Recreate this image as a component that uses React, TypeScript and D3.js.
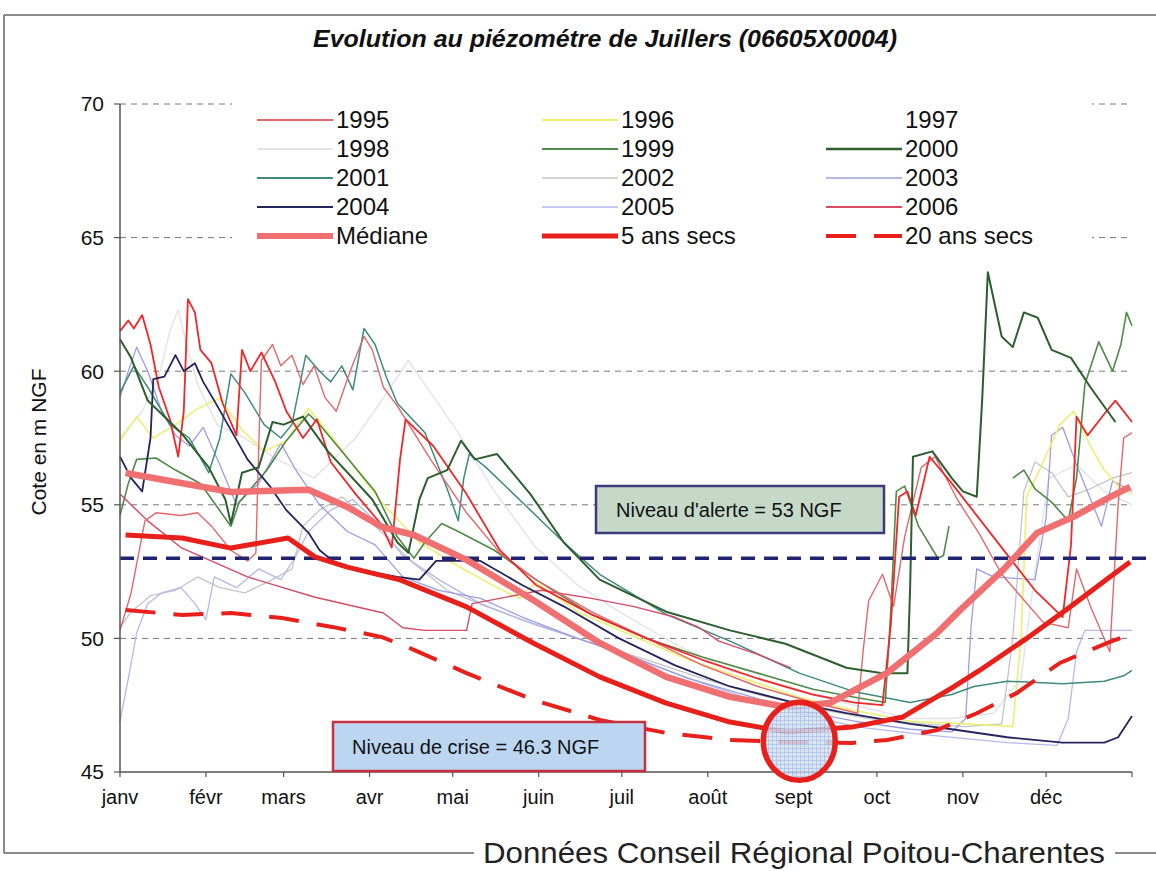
import * as d3 from 'd3';

type Pt = [number, number];

// jour de l'année (0 = 1er janvier), cote en m NGF
const mois = ['janv', 'févr', 'mars', 'avr', 'mai', 'juin', 'juil', 'août', 'sept', 'oct', 'nov', 'déc'];
const debutMois = [0, 31, 59, 90, 120, 151, 181, 212, 243, 273, 304, 334];
const yTicks = [45, 50, 55, 60, 65, 70];
const gridValues = [50, 55, 60, 65, 70];

const y1995: Pt[] = [[0, 50.3], [4, 51.7], [9, 54.4], [13, 54.7], [22, 54.6], [28, 54.7], [33, 54.2], [40, 53.3], [46, 52.9], [49, 53.2], [50, 57.0], [51, 60.4], [55, 61.0], [58, 60.2], [62, 60.6], [66, 59.5], [70, 60.2], [74, 59.0], [78, 58.5], [83, 60.0], [88, 61.3], [91, 60.8], [95, 59.4], [100, 58.7], [112, 56.7], [125, 54.7], [137, 53.2], [150, 52.2], [170, 51.0], [190, 50.0], [210, 49.0], [230, 48.2], [250, 47.6], [266, 47.2], [268, 49.5], [270, 51.4], [275, 52.4], [279, 51.2], [283, 53.8], [289, 56.4], [294, 56.8], [302, 55.2], [310, 53.9], [318, 52.4], [333, 50.6], [342, 50.4], [345, 52.6], [350, 51.2], [357, 49.5], [360, 55.0], [362, 57.5], [365, 57.7]];
const y1996: Pt[] = [[0, 57.4], [6, 58.3], [12, 57.5], [20, 58.0], [28, 58.6], [36, 59.0], [44, 57.8], [52, 57.0], [60, 57.4], [68, 58.6], [76, 57.6], [86, 56.2], [96, 54.9], [108, 53.6], [122, 52.7], [136, 51.9], [144, 51.5], [150, 52.1], [165, 51.0], [185, 50.1], [205, 49.2], [225, 48.5], [245, 47.8], [265, 47.3], [285, 46.9], [305, 46.8], [322, 46.7], [325, 50.0], [327, 55.3], [333, 56.6], [339, 58.0], [344, 58.5], [350, 57.2], [355, 56.3], [360, 55.7], [365, 55.4]];
const y1997: Pt[] = [[0, 61.5], [3, 61.9], [5, 61.6], [8, 62.1], [11, 61.0], [14, 59.4], [18, 58.2], [21, 56.8], [23, 58.5], [24.5, 62.7], [27, 62.2], [29, 60.8], [33, 60.3], [37, 58.8], [42, 57.6], [44, 60.8], [47, 60.0], [51, 60.7], [56, 59.6], [60, 58.5], [66, 57.5], [71, 58.2], [76, 56.6], [85, 55.4], [94, 54.3], [98, 53.4], [101, 56.7], [103, 58.2], [113, 57.2], [125, 55.4], [137, 53.3], [150, 52.0], [170, 50.9], [190, 50.0], [210, 49.2], [230, 48.5], [250, 47.9], [265, 47.6], [275, 47.5], [278, 50.5], [281, 55.3], [284, 55.5], [287, 54.6], [292, 56.8], [300, 55.8], [315, 53.8], [330, 51.8], [340, 50.8], [343, 53.5], [345, 58.3], [349, 57.6], [355, 58.4], [359, 58.9], [365, 58.1]];
const y1998: Pt[] = [[0, 57.5], [8, 58.5], [14, 59.8], [18, 61.5], [21, 62.3], [24, 61.0], [28, 59.5], [35, 58.0], [45, 57.5], [55, 56.8], [70, 56.0], [85, 57.5], [95, 59.0], [104, 60.4], [110, 59.5], [122, 57.7], [135, 55.5], [150, 53.4], [165, 52.0], [180, 51.0], [200, 49.8], [220, 48.8], [245, 48.0], [265, 47.5], [285, 47.0], [300, 47.0], [315, 47.2], [325, 48.5], [330, 52.5], [335, 56.0], [345, 56.5], [355, 55.5], [365, 55.0]];
const y1999: Pt[] = [[0, 54.6], [3, 55.8], [6, 56.7], [13, 56.75], [20, 56.3], [29, 55.8], [40, 54.2], [43, 55.1], [53, 56.3], [60, 57.4], [68, 58.4], [72, 58.0], [80, 57.0], [92, 55.5], [100, 53.8], [106, 53.0], [110, 53.6], [116, 54.3], [122, 54.0], [135, 53.3], [150, 52.2], [170, 50.9], [190, 50.0], [210, 49.3], [230, 48.7], [250, 48.1], [265, 47.8], [276, 47.6], [278, 51.0], [280, 55.5], [283, 55.7], [288, 54.2], [295, 53.0], [297, 53.1], [299, 54.2], [300, NaN], [322, 56.0], [326, 56.3], [330, 55.6], [336, 55.1], [342, 54.4], [345, 56.0], [348, 59.5], [353, 61.1], [358, 60.0], [361, 61.0], [363, 62.2], [365, 61.7]];
const y2000: Pt[] = [[0, 61.2], [4, 60.5], [10, 58.9], [22, 57.7], [32, 56.4], [38, 55.2], [40, 54.3], [44, 56.2], [50, 56.4], [55, 58.1], [59, 58.0], [66, 58.3], [75, 57.0], [91, 55.2], [100, 53.6], [104, 53.2], [108, 55.2], [111, 56.0], [118, 56.3], [123, 57.4], [128, 56.7], [136, 56.9], [148, 55.4], [160, 53.6], [173, 52.2], [197, 51.0], [220, 50.3], [240, 49.8], [262, 48.9], [275, 48.7], [284, 48.7], [285, 52.0], [286, 56.8], [293, 57.0], [300, 56.0], [304, 55.5], [309, 55.3], [311, 59.0], [313, 63.7], [318, 61.3], [322, 60.9], [326, 62.2], [331, 62.0], [336, 60.8], [343, 60.5], [350, 59.4], [359, 58.1]];
const y2001: Pt[] = [[0, 59.2], [5, 60.2], [10, 59.4], [18, 58.0], [25, 57.5], [32, 56.2], [36, 57.5], [40, 59.9], [45, 59.2], [52, 58.0], [58, 57.5], [62, 58.0], [67, 60.6], [72, 60.0], [76, 59.6], [80, 60.2], [84, 59.3], [88, 61.6], [92, 61.0], [96, 59.8], [100, 58.8], [110, 57.7], [118, 55.6], [122, 54.4], [124, 56.0], [126, 56.9], [132, 56.4], [146, 55.0], [160, 53.6], [173, 52.4], [197, 50.9], [220, 49.9], [245, 48.7], [265, 48.0], [285, 47.6], [300, 47.9], [308, 48.2], [320, 48.4], [340, 48.3], [355, 48.4], [362, 48.6], [365, 48.8]];
const y2002: Pt[] = [[0, 50.4], [4, 51.0], [11, 51.6], [20, 51.8], [28, 52.3], [36, 51.9], [45, 51.7], [55, 52.2], [62, 52.6], [66, 54.2], [72, 54.8], [80, 55.3], [88, 54.6], [96, 53.8], [106, 52.8], [118, 51.8], [132, 51.2], [150, 50.5], [168, 49.9], [190, 49.2], [210, 48.5], [230, 47.9], [250, 47.4], [270, 47.0], [290, 46.8], [305, 46.7], [318, 46.8], [322, 50.0], [326, 55.5], [330, 56.6], [336, 56.2], [342, 55.3], [350, 55.6], [358, 56.0], [365, 56.2]];
const y2003: Pt[] = [[0, 59.0], [3, 60.0], [6, 60.9], [10, 60.0], [15, 58.5], [20, 57.6], [25, 57.2], [30, 57.9], [36, 56.5], [42, 55.0], [50, 55.8], [58, 57.3], [64, 56.2], [72, 55.0], [82, 54.0], [92, 53.5], [102, 52.3], [115, 51.8], [130, 51.5], [145, 50.8], [165, 50.0], [185, 49.3], [205, 48.5], [225, 47.9], [245, 47.3], [265, 46.9], [285, 46.6], [300, 46.5], [305, 47.0], [307, 50.5], [309, 52.6], [315, 52.3], [330, 52.2], [334, 54.5], [336, 57.6], [340, 57.9], [345, 56.5], [354, 54.2], [358, 55.9], [365, 55.5]];
const y2004: Pt[] = [[0, 56.8], [4, 56.0], [8, 55.5], [11, 57.5], [12, 59.7], [16, 59.8], [20, 60.6], [23, 60.0], [27, 60.3], [30, 59.6], [34, 58.9], [46, 56.7], [54, 55.7], [60, 54.8], [68, 53.95], [72, 53.3], [78, 52.8], [90, 52.5], [100, 52.3], [108, 52.2], [114, 52.9], [130, 52.9], [145, 52.0], [160, 51.2], [180, 50.0], [200, 49.0], [220, 48.2], [243, 47.6], [262, 47.2], [285, 46.8], [300, 46.6], [320, 46.3], [340, 46.1], [355, 46.1], [360, 46.3], [365, 47.1]];
const y2005: Pt[] = [[0, 46.9], [3, 48.5], [6, 50.2], [10, 51.3], [15, 51.7], [22, 51.9], [27, 51.3], [31, 50.7], [34, 52.3], [42, 51.9], [50, 52.6], [58, 52.2], [63, 53.0], [68, 54.0], [76, 54.8], [84, 55.2], [92, 54.4], [102, 53.1], [115, 52.2], [130, 51.3], [145, 50.7], [165, 50.0], [185, 49.3], [205, 48.5], [225, 47.8], [245, 47.2], [265, 46.7], [290, 46.4], [320, 46.1], [338, 46.0], [342, 47.0], [345, 49.5], [348, 50.3], [358, 50.3], [365, 50.3]];
const y2006: Pt[] = [[0, 55.4], [10, 54.4], [22, 53.4], [46, 52.3], [70, 51.55], [95, 50.95], [102, 50.4], [110, 50.3], [125, 50.3], [127, 51.3], [137, 51.5], [152, 51.8], [170, 51.5], [185, 51.2], [200, 50.8], [209, 50.4], [216, 49.9], [230, 49.4], [242, 48.9]];

const mediane: Pt[] = [[2, 56.19], [40, 55.48], [68, 55.56], [82, 54.92], [94.5, 54.17], [106, 53.87], [125, 52.94], [149, 51.44], [173, 49.83], [197, 48.56], [220, 47.81], [240.6, 47.43], [256, 47.58], [276.7, 48.71], [294.7, 50.2], [303, 51.06], [318.5, 52.56], [330.8, 53.95], [343.7, 54.54], [357, 55.29], [364.3, 55.67]];
const cinqAnsSecs: Pt[] = [[2, 53.87], [22.4, 53.76], [40, 53.38], [60.6, 53.76], [70.3, 53.05], [82, 52.67], [101, 52.19], [125, 51.18], [149, 49.83], [173, 48.56], [197, 47.58], [220, 46.87], [240.6, 46.5], [264, 46.68], [282.4, 47.06], [300.5, 48.18], [310, 48.8], [327, 50.0], [342.7, 51.18], [357, 52.3], [364.3, 52.86]];
const vingtAnsSecs: Pt[] = [[2, 51.06], [22.4, 50.88], [40, 50.95], [58.4, 50.76], [76.5, 50.43], [94.5, 50.05], [106, 49.57], [125, 48.7], [149, 47.7], [173, 46.95], [197, 46.46], [220, 46.2], [240.6, 46.12], [264, 46.09], [276.7, 46.2], [294.7, 46.57], [309, 47.2], [323.5, 47.96], [339, 49.08], [357, 49.87], [361.8, 50.05]];

const NIVEAU_ALERTE = 53;
const NIVEAU_CRISE = 46.3;
const JOUR_CRISE = 245;

const annees = [
  { name: '1995', data: y1995, color: '#e2686c', width: 1.4, sample: true },
  { name: '1996', data: y1996, color: '#eeee74', width: 1.6, sample: true },
  { name: '1997', data: y1997, color: '#f0282a', width: 1.8, sample: false },
  { name: '1998', data: y1998, color: '#e3e3e3', width: 1.4, sample: true },
  { name: '1999', data: y1999, color: '#4f8a47', width: 1.6, sample: true },
  { name: '2000', data: y2000, color: '#2c5e2e', width: 2, sample: true },
  { name: '2001', data: y2001, color: '#3e8a7c', width: 1.5, sample: true },
  { name: '2002', data: y2002, color: '#c4c4c4', width: 1.3, sample: true },
  { name: '2003', data: y2003, color: '#9c9ce6', width: 1.3, sample: true },
  { name: '2004', data: y2004, color: '#24245e', width: 1.8, sample: true },
  { name: '2005', data: y2005, color: '#b2b9ec', width: 1.3, sample: true },
  { name: '2006', data: y2006, color: '#d84a66', width: 1.4, sample: true },
];
const ordreTrace = ['1998', '2002', '2005', '2003', '1996', '2001', '1999', '2006', '1995', '1997', '2004', '2000'];

const FONT = "'Liberation Sans', Arial, sans-serif";

export default function App() {
  const width = 1156;
  const height = 871;

  const x = d3.scaleLinear().domain([0, 365]).range([120, 1132]);
  const y = d3.scaleLinear().domain([45, 70]).range([772, 104]);
  const line = d3.line<Pt>()
    .defined(d => !Number.isNaN(d[1]))
    .x(d => x(d[0]))
    .y(d => y(d[1]));

  // legend: 3 columns, 5 rows
  const legendCols = [257, 542, 826];
  const legendRow = (i: number) => 120 + i * 29;
  const legendItems = [
    ...annees.map(a => ({ name: a.name, color: a.sample ? a.color : 'none', width: a.width + 0.4, dash: undefined as string | undefined })),
    { name: 'Médiane', color: '#f07072', width: 6, dash: undefined },
    { name: '5 ans secs', color: '#e8201c', width: 5, dash: undefined },
    { name: '20 ans secs', color: '#e8201c', width: 4, dash: '30,18' },
  ];

  const ticksX = [...debutMois, 365];

  return (
    <svg width={width} height={height} style={{ position: 'absolute', left: 0, top: 0, background: '#fff' }} fontFamily={FONT}>
      <defs>
        <pattern id="hachures" width="4" height="4" patternUnits="userSpaceOnUse">
          <rect width="4" height="4" fill="#d4e2f4" />
          <path d="M0,0.5H4M0.5,0V4" stroke="#9fb8de" strokeWidth="0.8" />
        </pattern>
      </defs>

      {/* chart frame */}
      <line x1={4} y1={15} x2={1156} y2={15} stroke="#666" strokeWidth={1.5} />
      <line x1={4} y1={15} x2={4} y2={853} stroke="#666" strokeWidth={1.5} />
      <line x1={4} y1={853} x2={1156} y2={853} stroke="#666" strokeWidth={1.5} />

      <text x={605} y={47} textAnchor="middle" fontWeight="bold" fontStyle="italic" fontSize={23} textLength={584} lengthAdjust="spacingAndGlyphs" fill="#111">
        Evolution au piézométre de Juillers (06605X0004)
      </text>

      {/* gridlines */}
      {gridValues.map(v => (
        <line key={v} x1={x(0)} x2={x(365)} y1={y(v)} y2={y(v)} stroke="#777" strokeWidth={1} strokeDasharray="6,5" />
      ))}

      {/* legend */}
      <rect x={232} y={96} width={860} height={160} fill="#fff" />
      {legendItems.map((it, i) => {
        const col = i % 3;
        const row = Math.floor(i / 3);
        const cy = legendRow(row);
        return (
          <g key={it.name}>
            {it.color !== 'none' && (
              <line x1={legendCols[col]} x2={legendCols[col] + 76} y1={cy} y2={cy} stroke={it.color} strokeWidth={it.width} strokeDasharray={it.dash} />
            )}
            <text x={legendCols[col] + 79} y={cy} dy="0.35em" fontSize={24} fill="#111">{it.name}</text>
          </g>
        );
      })}

      {/* yearly series */}
      {ordreTrace.map(n => {
        const a = annees.find(s => s.name === n)!;
        return <path key={n} d={line(a.data) ?? ''} fill="none" stroke={a.color} strokeWidth={a.width} strokeLinejoin="round" />;
      })}

      <path d={line(vingtAnsSecs) ?? ''} fill="none" stroke="#e8201c" strokeWidth={4} strokeDasharray="30,18" />

      {/* alert level */}
      <line x1={x(0)} x2={1152} y1={y(NIVEAU_ALERTE)} y2={y(NIVEAU_ALERTE)} stroke="#1f2370" strokeWidth={3.5} strokeDasharray="14,9" />

      <path d={line(mediane) ?? ''} fill="none" stroke="#f07072" strokeWidth={6.5} strokeLinejoin="round" />
      <path d={line(cinqAnsSecs) ?? ''} fill="none" stroke="#e8201c" strokeWidth={5} strokeLinejoin="round" />

      {/* axes */}
      <line x1={x(0)} x2={x(0)} y1={y(70)} y2={y(45)} stroke="#555" strokeWidth={1.5} />
      <line x1={x(0)} x2={x(365)} y1={y(45)} y2={y(45)} stroke="#555" strokeWidth={1.5} />
      {yTicks.map(v => (
        <g key={v}>
          <line x1={x(0) - 6} x2={x(0)} y1={y(v)} y2={y(v)} stroke="#555" strokeWidth={1.2} />
          <text x={x(0) - 16} y={y(v)} dy="0.35em" textAnchor="end" fontSize={21} fill="#111">{v}</text>
        </g>
      ))}
      {ticksX.map(d => (
        <line key={d} x1={x(d)} x2={x(d)} y1={y(45)} y2={y(45) + 5} stroke="#555" strokeWidth={1.2} />
      ))}
      {mois.map((m, i) => (
        <text key={m} x={x(debutMois[i])} y={804} textAnchor="middle" fontSize={20} fill="#111">{m}</text>
      ))}
      <text transform="translate(46,442) rotate(-90)" textAnchor="middle" fontSize={21} fill="#111">Cote en m NGF</text>

      {/* annotations */}
      <ellipse cx={x(JOUR_CRISE)} cy={y(NIVEAU_CRISE) + 4} rx={36} ry={39} fill="url(#hachures)" fillOpacity={0.85} stroke="#e8201c" strokeWidth={5.5} />
      <rect x={596} y={486} width={288} height={47} fill="#c6d9c9" stroke="#3a3a7c" strokeWidth={2.5} />
      <text x={616} y={510} dy="0.35em" fontSize={20} fill="#111">Niveau d'alerte = 53 NGF</text>
      <rect x={333} y={722} width={312} height={49} fill="#bcd6f2" stroke="#c83040" strokeWidth={2.5} />
      <text x={352} y={747} dy="0.35em" fontSize={20} fill="#111">Niveau de crise = 46.3 NGF</text>

      {/* source */}
      <rect x={474} y={836} width={641} height={35} fill="#fff" />
      <text x={794} y={863} textAnchor="middle" fontSize={30} textLength={622} lengthAdjust="spacingAndGlyphs" fill="#222">
        Données Conseil Régional Poitou-Charentes
      </text>
    </svg>
  );
}
